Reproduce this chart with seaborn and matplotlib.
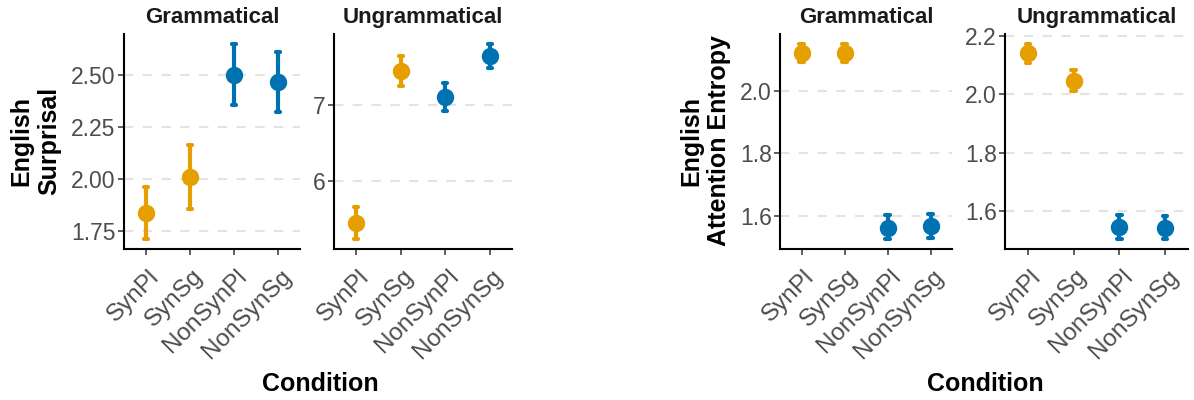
import numpy as np
import pandas as pd
import matplotlib
matplotlib.use("Agg")
import matplotlib.pyplot as plt
import matplotlib.transforms as mtransforms
import seaborn as sns

# ---------------- data ----------------
conditions = ["SynPl", "SynSg", "NonSynPl", "NonSynSg"]
cond_colors = {"SynPl": "#E69F00", "SynSg": "#E69F00",
               "NonSynPl": "#0072B2", "NonSynSg": "#0072B2"}

surp_gram_mean = [1.835, 2.011, 2.503, 2.467]
surp_gram_lo = [1.710, 1.854, 2.357, 2.324]
surp_gram_hi = [1.960, 2.163, 2.651, 2.611]

surp_ungram_mean = [5.446, 7.449, 7.113, 7.654]
surp_ungram_lo = [5.237, 7.253, 6.930, 7.490]
surp_ungram_hi = [5.665, 7.645, 7.300, 7.810]

ent_gram_mean = [2.122, 2.123, 1.559, 1.566]
ent_gram_lo = [2.093, 2.094, 1.524, 1.528]
ent_gram_hi = [2.152, 2.152, 1.601, 1.604]

ent_ungram_mean = [2.140, 2.047, 1.545, 1.543]
ent_ungram_lo = [2.108, 2.011, 1.505, 1.504]
ent_ungram_hi = [2.173, 2.083, 1.586, 1.585]

surp_gram_ticks = [1.75, 2.00, 2.25, 2.50]
surp_gram_ticklabels = ["1.75", "2.00", "2.25", "2.50"]
surp_ungram_ticks = [6, 7]
surp_ungram_ticklabels = ["6", "7"]
ent_gram_ticks = [1.6, 1.8, 2.0]
ent_gram_ticklabels = ["1.6", "1.8", "2.0"]
ent_ungram_ticks = [1.6, 1.8, 2.0, 2.2]
ent_ungram_ticklabels = ["1.6", "1.8", "2.0", "2.2"]

facet_titles = ["Grammatical", "Ungrammatical"]

# ---------------- style ----------------
sns.set_theme(style="white")
plt.rcParams["font.family"] = ["Liberation Sans", "DejaVu Sans"]

W, H = 1194, 400
fig = plt.figure(figsize=(W / 100, H / 100), dpi=100)


def px_axes(x0, x1, y0, y1):
    return fig.add_axes([x0 / W, 1 - y1 / H, (x1 - x0) / W, (y1 - y0) / H])


def panel(ax, mean, lo, hi, ticks, ticklabels, title):
    rows = []
    for c, m, l, h in zip(conditions, mean, lo, hi):
        for v in (l, m, h):
            rows.append({"Condition": c, "value": v})
    df = pd.DataFrame(rows)
    sns.pointplot(data=df, x="Condition", y="value", hue="Condition",
                  order=conditions, hue_order=conditions, palette=cond_colors,
                  estimator="median", errorbar=("pi", 100),
                  markers="o", linestyles="none", markersize=10.5,
                  capsize=0.1, err_kws={"linewidth": 3.0},
                  legend=False, ax=ax)
    span = max(hi) - min(lo)
    ax.set_ylim(min(lo) - 0.05 * span, max(hi) + 0.05 * span)
    ax.set_xlim(-0.5, len(conditions) - 0.5)
    ax.set_yticks(ticks)
    ax.set_yticklabels(ticklabels)
    ax.yaxis.grid(True, color="#E3E3E3", linewidth=1.5, linestyle=(0, (4.5, 4.5)))
    ax.xaxis.grid(False)
    ax.set_axisbelow(True)
    for s in ("top", "right"):
        ax.spines[s].set_visible(False)
    for s in ("left", "bottom"):
        ax.spines[s].set_color("black")
        ax.spines[s].set_linewidth(1.5)
    ax.tick_params(axis="both", which="major", length=4, width=1.1,
                   color="#333333", labelcolor="#4D4D4D",
                   left=True, bottom=True, pad=2)
    ax.tick_params(axis="y", labelsize=16.5)
    ax.tick_params(axis="x", labelsize=17.5)
    ax.set_xlabel("")
    ax.set_ylabel("")
    ax.set_title(title, fontsize=16, fontweight="bold", color="#1A1A1A", pad=8)
    offset = mtransforms.ScaledTranslation(2 / 100, -8 / 100, fig.dpi_scale_trans)
    for lab in ax.get_xticklabels():
        lab.set_rotation(45)
        lab.set_ha("right")
        lab.set_va("top")
        lab.set_rotation_mode("anchor")
        lab.set_transform(lab.get_transform() + offset)


top, bottom = 34, 249
axL1 = px_axes(124, 300, top, bottom)
axL2 = px_axes(334, 512, top, bottom)
axR1 = px_axes(780, 952, top, bottom)
axR2 = px_axes(1005, 1188, top, bottom)

panel(axL1, surp_gram_mean, surp_gram_lo, surp_gram_hi,
      surp_gram_ticks, surp_gram_ticklabels, facet_titles[0])
panel(axL2, surp_ungram_mean, surp_ungram_lo, surp_ungram_hi,
      surp_ungram_ticks, surp_ungram_ticklabels, facet_titles[1])
panel(axR1, ent_gram_mean, ent_gram_lo, ent_gram_hi,
      ent_gram_ticks, ent_gram_ticklabels, facet_titles[0])
panel(axR2, ent_ungram_mean, ent_ungram_lo, ent_ungram_hi,
      ent_ungram_ticks, ent_ungram_ticklabels, facet_titles[1])

lab_kw = dict(fontsize=18, fontweight="bold", color="black")
fig.text(35 / W, 1 - 141 / H, "English\nSurprisal", rotation=90,
         ha="center", va="center", multialignment="center", **lab_kw)
fig.text(705 / W, 1 - 141 / H, "English\nAttention Entropy", rotation=90,
         ha="center", va="center", multialignment="center", **lab_kw)
fig.text(320 / W, 1 - 384 / H, "Condition", ha="center", va="center", **lab_kw)
fig.text(985 / W, 1 - 384 / H, "Condition", ha="center", va="center", **lab_kw)

fig.savefig("out.png", dpi=100, facecolor="white")
